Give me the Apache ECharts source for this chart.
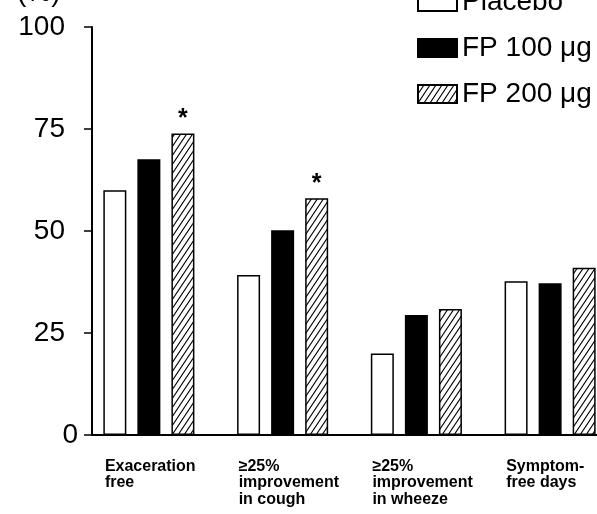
<!DOCTYPE html>
<html>
<head>
<meta charset="utf-8">
<script src="https://cdn.jsdelivr.net/npm/echarts@6/dist/echarts.min.js"></script>
<style>
html,body{margin:0;padding:0;background:#fff}
#chart{width:597px;height:514px}
</style>
</head>
<body>
<div id="chart"></div>
<script>
// data
var categories = ['Exaceration\nfree', '≥25%\nimprovement\nin cough', '≥25%\nimprovement\nin wheeze', 'Symptom-\nfree days'];
var seriesNames = ['Placebo', 'FP 100 μg', 'FP 200 μg'];
var placebo = [60, 39.2, 20, 37.7];
var fp100 = [67.6, 50.2, 29.4, 37.2];
var fp200 = [73.9, 58, 30.9, 41];
var marks = ['*', '*', '', ''];   // significance marks over FP 200
var yTicks = [0, 25, 50, 75, 100];

var F = 'Liberation Sans, Arial, sans-serif';

// diagonal hatch for FP 200
function hatch(){
	var c = document.createElement('canvas');
	c.width = 6; c.height = 9;
	var g = c.getContext('2d');
	g.fillStyle = '#fff';
	g.fillRect(0, 0, 6, 9);
	g.strokeStyle = '#000';
	g.lineWidth = 1.1;
	g.beginPath();
	g.moveTo(-6, 18); g.lineTo(12, -9);
	g.moveTo(-12, 18); g.lineTo(6, -9);
	g.moveTo(0, 18); g.lineTo(18, -9);
	g.stroke();
	return c;
}

var myChart = echarts.init(document.getElementById('chart'));

function bar(name, data, color){
	return {
		name: name,
		type: 'bar',
		xAxisIndex: 0,
		yAxisIndex: 0,
		data: data,
		barWidth: 23,
		barGap: '48%',
		itemStyle: {color: color, borderColor: '#000', borderWidth: 1.5}
	};
}

var s3 = bar(seriesNames[2], fp200, {image: hatch(), repeat: 'repeat'});
s3.label = {
	show: true,
	position: 'top',
	distance: 2,
	color: '#000',
	fontFamily: F,
	fontSize: 25,
	fontWeight: 'bold',
	formatter: function(p){ return marks[p.dataIndex]; }
};

var option = {
	animation: false,
	backgroundColor: '#fff',
	title: {
		text: '(%)',
		left: 12,
		top: -26,
		textStyle: {fontSize: 28, fontWeight: 'normal', color: '#000', fontFamily: F}
	},
	legend: {
		orient: 'vertical',
		left: 412,
		top: -17,
		itemWidth: 39,
		itemHeight: 18,
		itemGap: 18,
		icon: 'rect',
		data: seriesNames,
		textStyle: {fontSize: 28, color: '#000', fontFamily: F}
	},
	grid: [
		{left: 82, width: 535, top: 27, bottom: 79, outerBoundsMode: 'none'},
		{left: 92, right: 0, top: 27, bottom: 79, outerBoundsMode: 'none'}
	],
	xAxis: [{
		type: 'category',
		gridIndex: 0,
		data: categories,
		axisLine: {show: false},
		axisTick: {show: false},
		axisLabel: {
			margin: 23,
			align: 'center',
			width: 88,
			formatter: function(v){
				return v.split('\n').map(function(s){ return '{a|' + s + '}'; }).join('\n');
			},
			rich: {a: {align: 'left', fontSize: 16, fontWeight: 'bold', lineHeight: 16.5, color: '#000', fontFamily: F}}
		}
	}, {
		type: 'value',
		gridIndex: 1,
		min: 0,
		max: 1,
		axisLine: {show: true, lineStyle: {color: '#000', width: 2}},
		axisTick: {show: false},
		axisLabel: {show: false},
		splitLine: {show: false}
	}],
	yAxis: [{
		type: 'value',
		gridIndex: 0,
		min: yTicks[0],
		max: yTicks[yTicks.length - 1],
		show: false
	}, {
		type: 'value',
		gridIndex: 1,
		min: yTicks[0],
		max: yTicks[yTicks.length - 1],
		interval: yTicks[1] - yTicks[0],
		axisLine: {show: true, lineStyle: {color: '#000', width: 2}},
		axisTick: {show: true, length: 8, lineStyle: {color: '#000', width: 1.5}},
		splitLine: {show: false},
		axisLabel: {
			margin: 14,
			formatter: function(v){ return v === 0 ? '{z|0}' : '{n|' + v + '}'; },
			rich: {
				z: {fontSize: 28, color: '#000', fontFamily: F},
				n: {fontSize: 28, color: '#000', fontFamily: F, padding: [0, 13, 0, 0]}
			}
		}
	}],
	series: [
		bar(seriesNames[0], placebo, '#fff'),
		bar(seriesNames[1], fp100, '#000'),
		s3
	]
};
myChart.setOption(option);
</script>
</body>
</html>
